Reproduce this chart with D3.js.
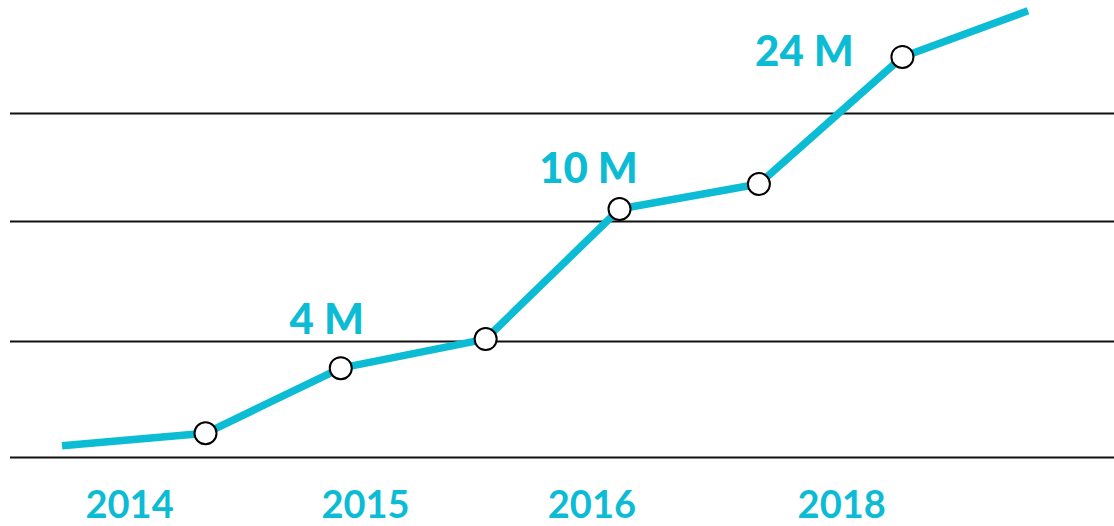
<!DOCTYPE html>
<html>
<head>
<meta charset="utf-8">
<script src="https://cdn.jsdelivr.net/npm/d3@7"></script>
<style>
  body { margin: 0; background: #fff; }
  svg { display: block; }
</style>
</head>
<body>
<svg id="chart"></svg>
<script>
// data (values in millions, log-spaced vertically)
const steps = [0, 1.04, 2.02, 3.07, 4.04, 5.05, 6.09, 7];
const users = [2.56, 2.75, 4, 4.73, 10, 11.55, 24, 31.3];
const marked = [false, true, true, true, true, true, true, false];
const calloutIndex = [2, 4, 6];
const calloutText = ["4 M", "10 M", "24 M"];
const gridValues = [2.4, 4.68, 9.33, 17.4];
const yearLabels = ["2014", "2015", "2016", "2018"];
const yearSteps = [0.49, 2.2, 3.84, 5.65];

// where each callout sits relative to its point
const calloutShift = [[-14, -34], [-31, -26], [-98, 9]];

const width = 1114, height = 526;
const teal = "#0bbcd4";

const svg = d3.select("#chart")
    .attr("width", width)
    .attr("height", height);

const x = d3.scaleLinear()
    .domain([0, 7])
    .range([62, 1028]);

const y = d3.scaleLog()
    .domain([1, 100])
    .range([609, -191]);

// horizontal rules
svg.append("g")
    .selectAll("line")
    .data(gridValues)
    .enter()
    .append("line")
    .attr("x1", 10)
    .attr("x2", width)
    .attr("y1", d => Math.round(y(d)) + 0.5)
    .attr("y2", d => Math.round(y(d)) + 0.5)
    .attr("stroke", "#111")
    .attr("stroke-width", 2);

const pts = steps.map((s, i) => [s, users[i]]);

const line = d3.line()
    .x(d => x(d[0]))
    .y(d => y(d[1]));

svg.append("path")
    .datum(pts)
    .attr("d", line)
    .attr("fill", "none")
    .attr("stroke", teal)
    .attr("stroke-width", 7.5)
    .attr("stroke-linejoin", "round");

svg.append("g")
    .selectAll("circle")
    .data(pts.filter((d, i) => marked[i]))
    .enter()
    .append("circle")
    .attr("cx", d => x(d[0]))
    .attr("cy", d => y(d[1]))
    .attr("r", 11)
    .attr("fill", "#fff")
    .attr("stroke", "#000")
    .attr("stroke-width", 2);

// value callouts
svg.append("g")
    .selectAll("text")
    .data(calloutIndex)
    .enter()
    .append("text")
    .attr("x", (d, k) => x(steps[d]) + calloutShift[k][0])
    .attr("y", (d, k) => y(users[d]) + calloutShift[k][1])
    .attr("text-anchor", "middle")
    .attr("font-family", "Lato, 'Open Sans', sans-serif")
    .attr("font-weight", "900")
    .attr("font-size", "42px")
    .attr("fill", teal)
    .text((d, k) => calloutText[k]);

// year labels
svg.append("g")
    .selectAll("text")
    .data(yearLabels)
    .enter()
    .append("text")
    .attr("x", (d, i) => x(yearSteps[i]))
    .attr("y", 518)
    .attr("text-anchor", "middle")
    .attr("font-family", "Lato, 'Open Sans', sans-serif")
    .attr("font-weight", "bold")
    .attr("font-size", "38px")
    .attr("fill", teal)
    .text(d => d);
</script>
</body>
</html>
